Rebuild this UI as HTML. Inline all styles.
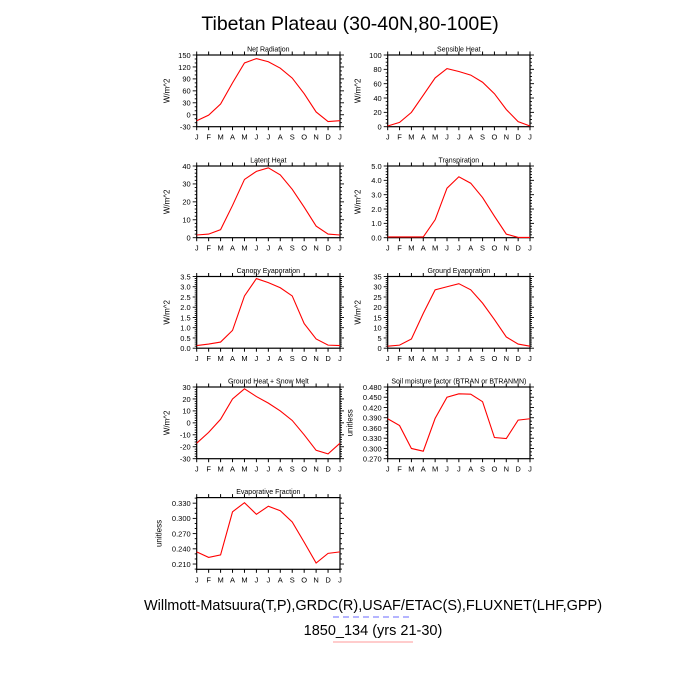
<!DOCTYPE html>
<html><head><meta charset="utf-8">
<style>
html,body{margin:0;padding:0;background:#fff;}
svg{display:block;font-family:"Liberation Sans",sans-serif;}
</style></head>
<body>
<svg id="chart" width="700" height="700" viewBox="0 0 700 700">
<text x="350" y="30" text-anchor="middle" font-size="19.5">Tibetan Plateau (30-40N,80-100E)</text>
<text x="373" y="610" text-anchor="middle" font-size="14.5">Willmott-Matsuura(T,P),GRDC(R),USAF/ETAC(S),FLUXNET(LHF,GPP)</text>
<line x1="333" y1="617" x2="413" y2="617" stroke="#6a6aff" stroke-width="1" stroke-dasharray="6,4"/>
<text x="373" y="635" text-anchor="middle" font-size="14.5">1850_134 (yrs 21-30)</text>
<line x1="333" y1="642" x2="413" y2="642" stroke="#ff9a9a" stroke-width="1"/>
</svg>
<script>
const months = ["J","F","M","A","M","J","J","A","S","O","N","D","J"];
const netRad = [-15,-1,27,80,130,141,133,117,92,53,7,-17,-15];
const sensible = [1,6,20,44,68,81,77,72,62,46,24,7,1];
const latent = [1.5,2,4.5,18,32.5,37,39,35,27,17,6.5,2,1.5];
const transp = [0.05,0.05,0.05,0.05,1.25,3.45,4.25,3.8,2.8,1.5,0.25,0.02,0.02];
const canopy = [0.13,0.2,0.3,0.87,2.55,3.4,3.2,2.95,2.55,1.2,0.45,0.15,0.13];
const groundEvap = [1,1.5,4.5,17,28.5,30,31.5,28.5,22,14,5.5,2,1];
const groundHeat = [-17,-8,3,20,28.5,22,16.5,10,2,-10,-23,-26,-17];
const soil = [0.387,0.367,0.300,0.292,0.388,0.450,0.460,0.459,0.437,0.332,0.329,0.383,0.387];
const evapFrac = [0.234,0.223,0.228,0.313,0.331,0.308,0.324,0.315,0.293,0.253,0.212,0.231,0.234];

const NS="http://www.w3.org/2000/svg";
const svg=document.getElementById('chart');
function mk(tag,attrs,parent){const e=document.createElementNS(NS,tag);for(const k in attrs)e.setAttribute(k,attrs[k]);(parent||svg).appendChild(e);return e;}

const colX=[[196.7,340],[387.7,530]];
const rowY=[55,166,276.5,387,497.6];
const H=71.7;

const panels=[
 {name:"net-radiation",title:"Net Radiation",unit:"W/m^2",data:netRad,min:-30,max:150,step:30,dec:0,minor:3,r:0,c:0,off:27},
 {name:"sensible-heat",title:"Sensible Heat",unit:"W/m^2",data:sensible,min:0,max:100,step:20,dec:0,minor:4,r:0,c:1,off:27},
 {name:"latent-heat",title:"Latent Heat",unit:"W/m^2",data:latent,min:0,max:40,step:10,dec:0,minor:5,r:1,c:0,off:27},
 {name:"transpiration",title:"Transpiration",unit:"W/m^2",data:transp,min:0,max:5,step:1,dec:1,minor:5,r:1,c:1,off:27},
 {name:"canopy-evaporation",title:"Canopy Evaporation",unit:"W/m^2",data:canopy,min:0,max:3.5,step:0.5,dec:1,minor:5,r:2,c:0,off:27},
 {name:"ground-evaporation",title:"Ground Evaporation",unit:"W/m^2",data:groundEvap,min:0,max:35,step:5,dec:0,minor:5,r:2,c:1,off:27},
 {name:"ground-heat-snow-melt",title:"Ground Heat + Snow Melt",unit:"W/m^2",data:groundHeat,min:-30,max:30,step:10,dec:0,minor:5,r:3,c:0,off:27},
 {name:"soil-moisture-factor",title:"Soil moisture factor (BTRAN or BTRANMN)",unit:"unitless",data:soil,min:0.27,max:0.48,step:0.03,dec:3,minor:3,r:3,c:1,off:35},
 {name:"evaporative-fraction",title:"Evaporative Fraction",unit:"unitless",data:evapFrac,min:0.1996,max:0.341,step:0.03,dec:3,minor:3,r:4,c:0,first:0.21,last:0.33,off:35}
];

panels.forEach(p=>{
 const x0=colX[p.c][0],x1=colX[p.c][1],y0=rowY[p.r],y1=y0+H;
 const g=mk('g',{});
 
 
 const xs=i=>x0+(x1-x0)*i/(months.length-1);
 const ys=v=>y1-(y1-y0)*(v-p.min)/(p.max-p.min);
 const fr=mk('rect',{x:x0,y:y0,width:x1-x0,height:y1-y0,fill:'none',stroke:'#000','stroke-width':1.2},g);
 
 
 const t=mk('text',{x:(x0+x1)/2,y:y0-3.5,'text-anchor':'middle','font-size':7},g);
 t.textContent=p.title;
 
 
 const yt=mk('text',{x:0,y:0,'text-anchor':'middle','font-size':8,transform:`translate(${x0-p.off},${(y0+y1)/2}) rotate(-90)`},g);
 yt.textContent=p.unit;
 
 
 months.forEach((m,i)=>{
  const x=xs(i);
  mk('line',{x1:x,y1:y0,x2:x,y2:y0-3.5,stroke:'#000','stroke-width':1},g);
  mk('line',{x1:x,y1:y1,x2:x,y2:y1+3.5,stroke:'#000','stroke-width':1},g);
  const l=mk('text',{x:x,y:y1+13,'text-anchor':'middle','font-size':7.5},g);
  l.textContent=m;
  
  
 });
 const first=p.first!==undefined?p.first:p.min;
 const last=p.last!==undefined?p.last:p.max;
 const n=Math.round((last-first)/p.step);
 const ms=p.step/p.minor;
 for(let k=-p.minor;k<=(n+1)*p.minor;k++){
  const v=first+k*ms;
  if(v<p.min-1e-9||v>p.max+1e-9)continue;
  const y=ys(v);
  const major=(k%p.minor===0)&&k>=0&&k<=n*p.minor;
  const len=major?4:2;
  mk('line',{x1:x0,y1:y,x2:x0-len,y2:y,stroke:'#000','stroke-width':0.9},g);
  mk('line',{x1:x1,y1:y,x2:x1+len,y2:y,stroke:'#000','stroke-width':0.9},g);
  if(major){
   const l=mk('text',{x:x0-6,y:y+2.8,'text-anchor':'end','font-size':7.5},g);
   l.textContent=v.toFixed(p.dec);
   
   
  }
 }
 const pts=p.data.map((v,i)=>xs(i).toFixed(2)+','+ys(v).toFixed(2)).join(' ');
 const pl=mk('polyline',{points:pts,fill:'none',stroke:'#ff0000','stroke-width':1.1},g);
 
 
});
</script>
</body></html>
